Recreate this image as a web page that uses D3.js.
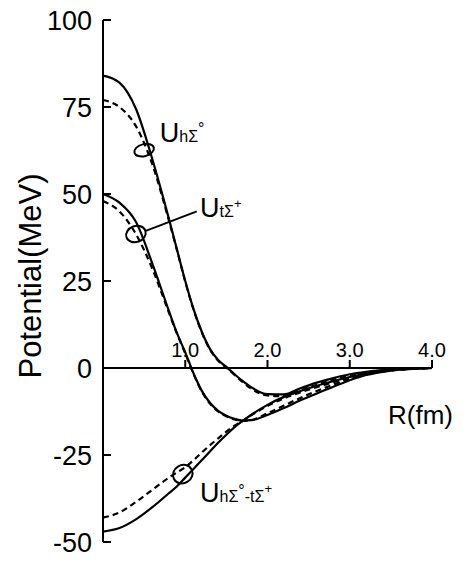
<!DOCTYPE html>
<meta charset="utf-8" />
<script src="https://d3js.org/d3.v7.min.js"></script>
<style>
  body { margin: 0; background: white; }
  text { font-family: "Liberation Sans Narrow", "Liberation Sans", Arial, sans-serif; fill: black; }
</style>
<body>
<svg id="chart" width="469" height="563"></svg>
<script>
  // R grid (fm) shared by every curve
  const R = [0, 0.2, 0.4, 0.6, 0.8, 0.9, 1.0, 1.1, 1.2, 1.3, 1.4, 1.5, 1.6, 1.7, 1.8, 2.0, 2.2, 2.4, 2.6, 2.8, 3.0, 3.2, 3.4, 3.6, 3.8, 4.0];

  // U_hΣ0 (solid / dashed)
  const uhSolid  = [84, 82, 74.5, 60, 43, 34, 25, 17, 10.5, 5.5, 2.3, 0.3, -1.8, -3.8, -5.5, -7.5, -7.6, -5.8, -4.2, -2.9, -1.8, -1.1, -0.6, -0.25, -0.1, 0];
  const uhDashed = [77, 75, 69.5, 58.5, 42.5, 33.8, 24.8, 16.8, 10.3, 5.3, 2.1, 0.1, -2, -4.1, -5.9, -7.9, -8.1, -6.4, -4.8, -3.4, -2.2, -1.3, -0.7, -0.3, -0.1, 0];

  // U_tΣ+ (solid / dashed)
  const utSolid  = [50, 47.5, 42, 30, 16.5, 10, 4.5, -1.5, -6.5, -10, -12.3, -13.7, -14.6, -15.1, -15, -13.5, -11.5, -9.3, -7.3, -5.4, -3.5, -2, -1.1, -0.5, -0.2, 0];
  const utDashed = [48, 45, 38.5, 28.5, 16, 9.8, 4.2, -1.7, -6.7, -10.2, -12.5, -13.9, -14.8, -15.2, -15, -13, -10.8, -8.6, -6.6, -4.8, -3.1, -1.8, -1, -0.45, -0.2, 0];

  // U_hΣ0-tΣ+ (solid / dashed)
  const uhtSolid  = [-47, -46, -43.5, -40, -36, -34, -31.5, -29, -26.5, -24, -21.5, -19.2, -17, -15.2, -13.5, -10.6, -8.3, -6.6, -5.1, -3.8, -2.6, -1.6, -0.9, -0.4, -0.1, 0];
  const uhtDashed = [-43, -41.5, -38.5, -35, -31.5, -30, -28.5, -26.5, -24.3, -22.2, -20.2, -18.3, -16.6, -15.2, -13.6, -10.9, -8.7, -7, -5.5, -4.1, -2.9, -1.8, -1, -0.45, -0.15, 0];

  const xTicks = [1, 2, 3, 4];
  const xTickLabels = ["1.0", "2.0", "3.0", "4.0"];
  const yTicks = [100, 75, 50, 25, 0, -25, -50];

  const svg = d3.select("#chart");

  const x = d3.scaleLinear().domain([0, 4]).range([103, 432]);
  const y = d3.scaleLinear().domain([-50, 100]).range([542, 20]);

  const line = d3.line()
    .x(d => x(d[0]))
    .y(d => y(d[1]))
    .curve(d3.curveMonotoneX);

  const series = [
    { vals: uhSolid, dash: null },
    { vals: uhDashed, dash: "6,4" },
    { vals: utSolid, dash: null },
    { vals: utDashed, dash: "6,4" },
    { vals: uhtSolid, dash: null },
    { vals: uhtDashed, dash: "6,4" }
  ];

  // curves
  svg.append("g")
    .selectAll("path")
    .data(series)
    .enter()
    .append("path")
    .attr("d", s => line(R.map((r, i) => [r, s.vals[i]])))
    .attr("fill", "none")
    .attr("stroke", "black")
    .attr("stroke-width", 2.2)
    .attr("stroke-dasharray", s => s.dash);

  // y axis: line, inward ticks, labels on the left
  const yAxis = svg.append("g");
  yAxis.append("line")
    .attr("x1", x(0)).attr("x2", x(0))
    .attr("y1", y(100)).attr("y2", y(-50))
    .attr("stroke", "black").attr("stroke-width", 2);
  yAxis.selectAll("line.tick")
    .data(yTicks.filter(d => d !== 0))
    .enter()
    .append("line")
    .attr("class", "tick")
    .attr("x1", x(0)).attr("x2", x(0) + 8)
    .attr("y1", d => y(d)).attr("y2", d => y(d))
    .attr("stroke", "black").attr("stroke-width", 2);
  yAxis.selectAll("text")
    .data(yTicks)
    .enter()
    .append("text")
    .attr("x", 92)
    .attr("y", d => y(d))
    .attr("dy", "0.36em")
    .attr("text-anchor", "end")
    .attr("font-size", 27)
    .text(d => d);

  // x axis along zero, ticks pointing up, labels above
  const xAxis = svg.append("g");
  xAxis.append("line")
    .attr("x1", x(0)).attr("x2", x(4))
    .attr("y1", y(0)).attr("y2", y(0))
    .attr("stroke", "black").attr("stroke-width", 2);
  xAxis.selectAll("line.tick")
    .data(xTicks)
    .enter()
    .append("line")
    .attr("class", "tick")
    .attr("x1", d => x(d)).attr("x2", d => x(d))
    .attr("y1", y(0)).attr("y2", y(0) - 8)
    .attr("stroke", "black").attr("stroke-width", 2);
  xAxis.selectAll("text")
    .data(xTicks)
    .enter()
    .append("text")
    .attr("x", d => x(d))
    .attr("y", y(0) - 11)
    .attr("text-anchor", "middle")
    .attr("font-size", 20)
    .text((d, i) => xTickLabels[i]);

  // axis titles
  svg.append("text")
    .attr("transform", "translate(41,276) rotate(-90)")
    .attr("text-anchor", "middle")
    .attr("font-family", "Liberation Sans, Arial, sans-serif")
    .attr("font-size", 31)
    .text("Potential(MeV)");

  svg.append("text")
    .attr("x", 388)
    .attr("y", 424)
    .attr("font-family", "Liberation Sans, Arial, sans-serif")
    .attr("font-size", 26)
    .text("R(fm)");

  // curve labels with little loops around the pair of curves
  const rings = [
    { r: 0.50, u: 62.6, rx: 10, ry: 6, rot: -15 },
    { r: 0.40, u: 38.5, rx: 10, ry: 8, rot: -20 },
    { r: 0.97, u: -30.5, rx: 10, ry: 9, rot: -30 }
  ];
  svg.append("g")
    .selectAll("ellipse")
    .data(rings)
    .enter()
    .append("ellipse")
    .attr("transform", d => `translate(${x(d.r)},${y(d.u)}) rotate(${d.rot})`)
    .attr("rx", d => d.rx)
    .attr("ry", d => d.ry)
    .attr("fill", "none")
    .attr("stroke", "black")
    .attr("stroke-width", 2);

  // leader for U_tΣ+
  svg.append("line")
    .attr("x1", x(0.52)).attr("y1", y(39.4))
    .attr("x2", x(1.14)).attr("y2", y(45))
    .attr("stroke", "black").attr("stroke-width", 2);

  const labels = [
    { r: 0.69, u: 65, parts: [["U", 27, 0], ["hΣ", 16, 0], ["°", 16, -8]] },
    { r: 1.18, u: 43.4, parts: [["U", 27, 0], ["tΣ", 16, 0], ["+", 13, -9]] },
    { r: 1.18, u: -38.5, parts: [["U", 27, 0], ["hΣ", 16, 0], ["°", 16, -6], ["-tΣ", 16, 6], ["+", 13, -9]] }
  ];
  labels.forEach(lb => {
    const t = svg.append("text")
      .attr("x", x(lb.r))
      .attr("y", y(lb.u))
      .attr("font-family", "Liberation Sans, Arial, sans-serif");
    lb.parts.forEach(p => {
      t.append("tspan")
        .attr("font-size", p[1])
        .attr("dy", p[2])
        .text(p[0]);
    });
  });
</script>
</body>
